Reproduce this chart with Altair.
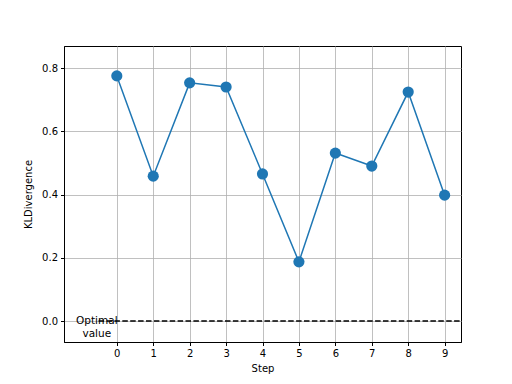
import altair as alt
import pandas as pd

steps = [0, 1, 2, 3, 4, 5, 6, 7, 8, 9]
kl_values = [0.775, 0.458, 0.753, 0.740, 0.465, 0.187, 0.531, 0.490, 0.724, 0.398]
optimal_value = 0.0
optimal_label = "Optimal\nvalue"

df = pd.DataFrame({"Step": steps, "KLDivergence": kl_values})
opt_df = pd.DataFrame({"x": [-0.5], "x2": [9.5], "y": [optimal_value]})
txt_df = pd.DataFrame({"x": [-0.55], "y": [optimal_value], "t": [optimal_label]})

xscale = alt.Scale(domain=[-1.45, 9.45], nice=False, zero=False)
yscale = alt.Scale(domain=[-0.0664, 0.8696], nice=False, zero=False)

xaxis = alt.Axis(values=steps, format="d", title="Step", grid=True,
                 gridColor="#b0b0b0", gridWidth=0.8, tickSize=3.5,
                 tickColor="black", domainColor="black", labelPadding=3,
                 titlePadding=5, labelFontSize=10, titleFontSize=10,
                 labelColor="black", titleColor="black", titleFontWeight="normal",
                 labelFont="DejaVu Sans", titleFont="DejaVu Sans")
yaxis = alt.Axis(values=[0.0, 0.2, 0.4, 0.6, 0.8], format=".1f", title="KLDivergence",
                 grid=True, gridColor="#b0b0b0", gridWidth=0.8, tickSize=3.5,
                 tickColor="black", domainColor="black", labelPadding=3,
                 titlePadding=8, labelFontSize=10, titleFontSize=10,
                 labelColor="black", titleColor="black", titleFontWeight="normal",
                 labelFont="DejaVu Sans", titleFont="DejaVu Sans")

line = alt.Chart(df).mark_line(color="#1f77b4", strokeWidth=1.5).encode(
    x=alt.X("Step:Q", scale=xscale, axis=xaxis),
    y=alt.Y("KLDivergence:Q", scale=yscale, axis=yaxis),
)
pts = alt.Chart(df).mark_circle(color="#1f77b4", opacity=1, size=125).encode(
    x=alt.X("Step:Q", scale=xscale),
    y=alt.Y("KLDivergence:Q", scale=yscale),
)
rule = alt.Chart(opt_df).mark_rule(color="black", strokeWidth=1.5,
                                    strokeDash=[5.5, 2.4], clip=True).encode(
    x=alt.X("x:Q", scale=xscale),
    x2="x2:Q",
    y=alt.Y("y:Q", scale=yscale),
)
text = alt.Chart(txt_df).mark_text(align="center", baseline="middle", fontSize=10.5,
                                   font="DejaVu Sans", color="black",
                                   lineBreak="\n", lineHeight=12.5).encode(
    x=alt.X("x:Q", scale=xscale),
    y=alt.Y("y:Q", scale=yscale),
    text="t:N",
)

chart = alt.layer(rule, line, pts, text).properties(
    width=397, height=296,
    autosize=alt.AutoSizeParams(type="none"),
    padding={"left": 56, "top": 38, "right": 43, "bottom": 34},
    background="white",
).configure_view(stroke="black", strokeWidth=1)

chart.save("out.html", embed_options={"renderer": "svg", "actions": False})
